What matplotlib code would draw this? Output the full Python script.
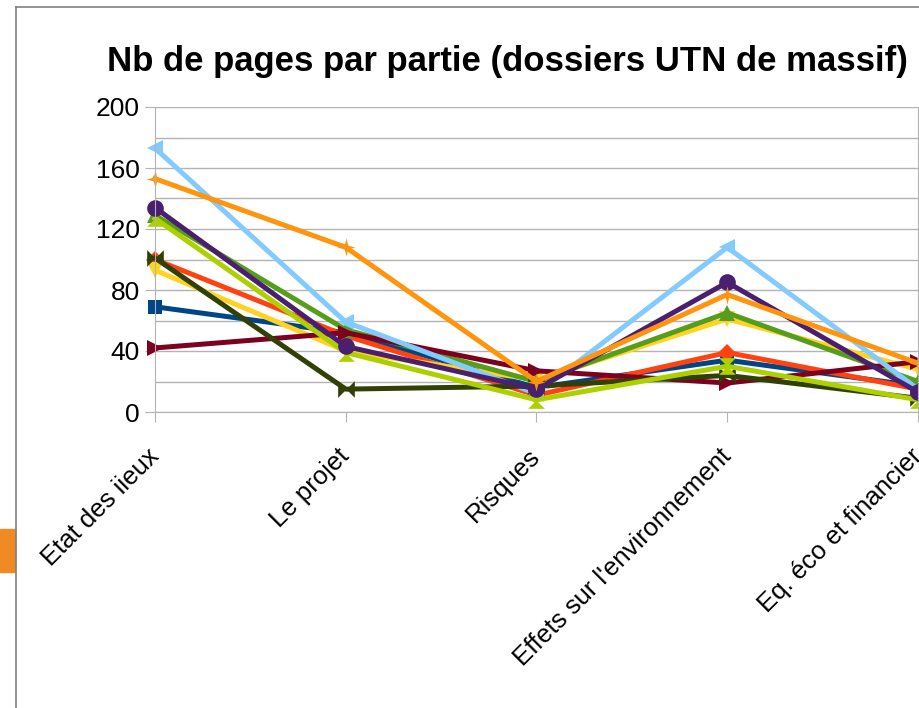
import matplotlib
matplotlib.use('Agg')
import matplotlib.pyplot as plt
from matplotlib.patches import Rectangle
from matplotlib.lines import Line2D

plt.rcParams['font.family'] = ['Liberation Sans', 'DejaVu Sans']

categories = ["Etat des iieux", "Le projet", "Risques",
              "Effets sur l'environnement", "Eq. éco et financier"]

# one list per dossier (LibreOffice default series order)
s1_blue = [69, 52, 16, 34, 17]
s2_redorange = [100, 50, 11, 39, 15]
s3_yellow = [93, 40, 21, 61, 28]
s4_green = [129, 54, 20, 65, 20]
s5_maroon = [42, 52, 27, 19, 33]
s6_lightblue = [173, 59, 12, 108, 15]
s7_olive = [101, 15, 17, 24, 9]
s8_yellowgreen = [127, 39, 8, 30, 8]
s9_purple = [134, 43, 15, 85, 13]
s10_orange = [153, 108, 20, 77, 32]

bowtie = [(-1, -1), (-1, 1), (1, -1), (1, 1), (-1, -1)]
hourglass = [(-1, 1), (1, 1), (-1, -1), (1, -1), (-1, 1)]
star4 = [(0, 1), (0.2, 0.2), (1, 0), (0.2, -0.2), (0, -1),
         (-0.2, -0.2), (-1, 0), (-0.2, 0.2), (0, 1)]

series = [
    (s1_blue, '#004586', 's', 10),
    (s2_redorange, '#ff420e', 'D', 9),
    (s3_yellow, '#ffd320', 'v', 12),
    (s4_green, '#579d1c', '^', 12),
    (s5_maroon, '#7e0021', '>', 12),
    (s6_lightblue, '#83caff', '<', 12),
    (s7_olive, '#314004', bowtie, 12),
    (s8_yellowgreen, '#aecf00', hourglass, 12),
    (s9_purple, '#4b1f6f', 'o', 12),
    (s10_orange, '#ff950e', star4, 13),
]

fig = plt.figure(figsize=(9.2, 7.08), dpi=100)
ax = fig.add_axes([155 / 920, 1 - 412 / 708, (918 - 155) / 920, (412 - 107) / 708])

x = list(range(len(categories)))
for vals, col, mk, ms in series:
    ax.plot(x, vals, color=col, lw=3.6, marker=mk, markersize=ms,
            markeredgewidth=0, clip_on=False)

ax.set_xlim(0, len(categories) - 1)
ax.set_ylim(0, 200)
ax.set_yticks(range(0, 201, 40))
ax.set_yticks(range(0, 201, 20), minor=True)
ax.yaxis.grid(True, which='both', color='#b3b3b3', lw=1)
ax.set_axisbelow(True)
ax.tick_params(axis='y', which='major', labelsize=19, length=7, color='#b3b3b3', pad=4)
ax.tick_params(axis='y', which='minor', length=0)
ax.set_xticks(x)
ax.set_xticklabels(categories, rotation=45, ha='right', va='center',
                   rotation_mode='anchor', fontsize=18.5)
ax.tick_params(axis='x', length=7, color='#b3b3b3', pad=22)
for side in ['left', 'bottom', 'right']:
    ax.spines[side].set_color('#b3b3b3')
ax.spines['top'].set_visible(False)

fig.text(507 / 920, 1 - 62 / 708, "Nb de pages par partie (dossiers UTN de massif)",
         ha='center', va='center', fontsize=25, fontweight='bold')

# frame fragments of the surrounding slide
fig.add_artist(Line2D([16 / 920, 16 / 920], [0, 1 - 7 / 708], color='#808080', lw=1.2,
                      transform=fig.transFigure))
fig.add_artist(Line2D([16 / 920, 1], [1 - 7 / 708, 1 - 7 / 708], color='#808080', lw=1.2,
                      transform=fig.transFigure))
fig.patches.append(Rectangle((0, 1 - 572 / 708), 15 / 920, 43 / 708,
                             transform=fig.transFigure, color='#f08a24'))

fig.savefig('out.png', dpi=100)
